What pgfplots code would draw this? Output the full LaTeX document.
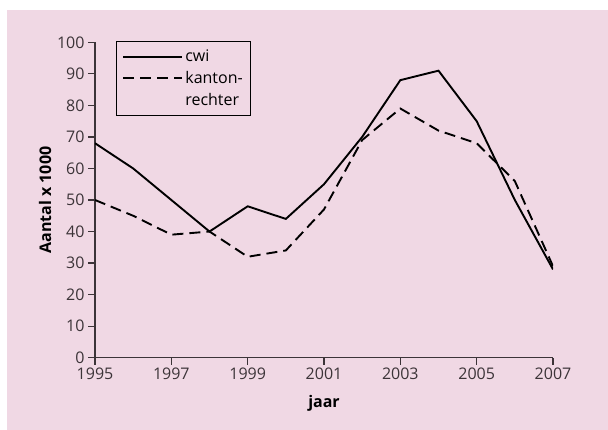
\documentclass[border=0pt]{standalone}
\usepackage{pgfplots}
\pgfplotsset{compat=1.18}
\usepackage{fontspec}
\setmainfont{Open Sans}
\definecolor{bgpink}{RGB}{240,216,228}
\definecolor{axisgray}{RGB}{60,52,56}
\begin{document}
\begin{tikzpicture}
\fill[white] (0pt,0pt) rectangle (608pt,430pt);
\fill[bgpink] (7pt,0pt) rectangle (608pt,420pt);
\begin{axis}[
  at={(95pt,72.3pt)}, anchor=south west,
  scale only axis, width=458pt, height=315.4pt,
  xmin=1995, xmax=2007, ymin=0, ymax=100,
  axis x line=bottom, axis y line=left,
  axis line style={-, draw=axisgray, line width=1.3pt},
  tick style={draw=axisgray, line width=1.3pt},
  tick align=outside, major tick length=7pt,
  xtick={1995,1997,...,2007}, ytick={0,10,...,100},
  /pgf/number format/1000 sep={},
  /pgf/number format/assume math mode=true,
  tick label style={font=\fontsize{16}{19}\selectfont, text=axisgray},
  xlabel={\textbf{jaar}}, ylabel={\textbf{Aantal x 1000}},
  every axis x label/.style={at={(axis description cs:0.5,-0.144)}, anchor=center, font=\fontsize{16}{19}\selectfont},
  every axis y label/.style={at={(axis description cs:-0.109,0.5)}, anchor=center, rotate=90, font=\fontsize{16}{19}\selectfont},
  legend image code/.code={\draw[#1] (0pt,0pt) -- (59pt,0pt);},
  legend style={at={(rel axis cs:0.046,1.005)}, anchor=north west,
    draw=black, line width=0.8pt, fill=none,
    font=\fontsize{16}{19}\selectfont,
    cells={anchor=west},
    inner xsep=6pt, inner ysep=7pt, row sep=4pt},
  legend cell align=left,
]
\addplot[black, line width=1.9pt] coordinates {
(1995,68) (1996,60) (1997,50) (1998,40) (1999,48) (2000,44) (2001,55)
(2002,70) (2003,88) (2004,91) (2005,75) (2006,50) (2007,28)};
\addlegendentry{cwi}
\addplot[black, line width=1.9pt, dash pattern=on 11pt off 6pt] coordinates {
(1995,50) (1996,45) (1997,39) (1998,40) (1999,32) (2000,34) (2001,47)
(2002,69) (2003,79) (2004,72) (2005,68) (2006,56) (2007,29)};
\addlegendentry{kanton-}
\addlegendimage{empty legend}
\addlegendentry{rechter}
\end{axis}
\end{tikzpicture}
\end{document}
